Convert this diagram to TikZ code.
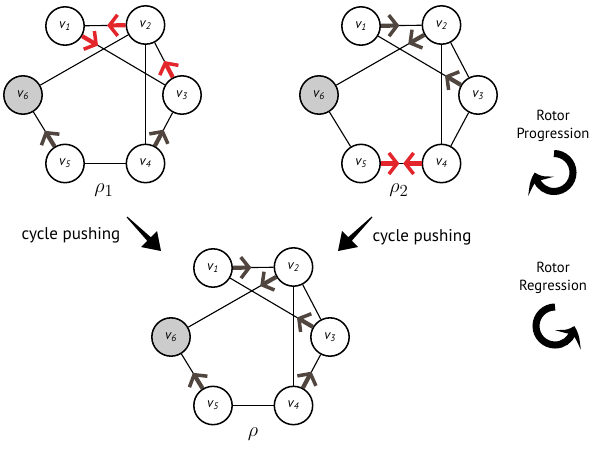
\documentclass[tikz,border=0pt]{standalone}
\usepackage{fontspec}
\setsansfont{PT Sans}
\usetikzlibrary{arrows.meta,calc,bending}
\definecolor{rred}{HTML}{E3262B}
\definecolor{rbrown}{HTML}{51463F}
\definecolor{sinkgray}{HTML}{CCCCCC}
\newcommand\lab[1]{v\textsubscript{#1}}
\newcommand\rotorarr[3]{\draw[#1] ($(#2)!0.6cm!(#3)$) -- ($(#2)!1.15cm!(#3)$);}
\newcommand\rotorgraph[2]{%
  \begin{scope}[shift={#2}]
    \node[vert] (#1v1) at (65,26) {\lab{1}};
    \node[vert] (#1v2) at (145.5,25) {\lab{2}};
    \node[vert] (#1v3) at (182,95) {\lab{3}};
    \node[vert] (#1v4) at (145.5,163.5) {\lab{4}};
    \node[vert] (#1v5) at (65,163.5) {\lab{5}};
    \node[sink] (#1v6) at (23,95) {\lab{6}};
  \end{scope}
  \draw[edge] (#1v1) -- (#1v2);
  \draw[edge] (#1v1) -- (#1v3);
  \draw[edge] (#1v2) -- (#1v6);
  \draw[edge] (#1v2) -- (#1v4);
  \draw[edge] (#1v2) -- (#1v3);
  \draw[edge] (#1v3) -- (#1v4);
  \draw[edge] (#1v4) -- (#1v5);
  \draw[edge] (#1v5) -- (#1v6);
}
\begin{document}
\begin{tikzpicture}[x=0.03cm,y=-0.03cm,
  vert/.style={circle,draw,line width=1.3pt,fill=white,minimum size=1.15cm,inner sep=0pt,
    font=\sffamily\itshape\fontsize{11.5}{13}\selectfont},
  sink/.style={vert,fill=sinkgray},
  edge/.style={line width=0.95pt},
  rotortip/.style={-{Straight Barb[length=7pt,width=18pt,line width=3pt]}},
  rotorred/.style={rred,line width=3.6pt,rotortip},
  rotorbrown/.style={rbrown,line width=3.6pt,rotortip},
  rholab/.style={font=\fontsize{19}{20}\selectfont},
  caption/.style={font=\sffamily\fontsize{14.5}{16}\selectfont},
  rotcap/.style={font=\sffamily\fontsize{12.5}{15.5}\selectfont,align=center},
  turn/.style={line width=6pt,-{Stealth[length=13pt,width=26pt,inset=6pt,bend]}}
]
\useasboundingbox (0,0) rectangle (595,453);

% graph rho_1
\rotorgraph{a}{(0,0)}
\rotorarr{rotorred}{av1}{av3}
\rotorarr{rotorred}{av2}{av1}
\rotorarr{rotorred}{av3}{av2}
\rotorarr{rotorbrown}{av4}{av3}
\rotorarr{rotorbrown}{av5}{av6}
\node[rholab] (rho1) at (104,190) {$\rho_1$};

% graph rho_2
\rotorgraph{b}{(296,0)}
\rotorarr{rotorbrown}{bv1}{bv2}
\rotorarr{rotorbrown}{bv2}{bv6}
\rotorarr{rotorbrown}{bv3}{bv1}
\rotorarr{rotorred}{bv4}{bv5}
\rotorarr{rotorred}{bv5}{bv4}
\node[rholab] (rho2) at (399,190) {$\rho_2$};

% graph rho
\rotorgraph{c}{(148,242)}
\rotorarr{rotorbrown}{cv1}{cv2}
\rotorarr{rotorbrown}{cv2}{cv6}
\rotorarr{rotorbrown}{cv3}{cv1}
\rotorarr{rotorbrown}{cv4}{cv3}
\rotorarr{rotorbrown}{cv5}{cv6}
\node[rholab] (rho) at (253,434) {$\rho$};

% cycle pushing arrows
\fill (127.4,216.6) -- (150.8,237.2) -- (157,231) -- (161,251) -- (141,247) -- (147.2,240.8) -- (126.6,217.4) -- cycle;
\fill (371.6,216.6) -- (348.2,237.2) -- (342,231) -- (338,251) -- (358,247) -- (351.8,240.8) -- (372.4,217.4) -- cycle;
\node[caption] (cp1) at (71,235) {cycle pushing};
\node[caption] (cp2) at (422,237) {cycle pushing};

% rotor progression / regression
\node[rotcap] (rp) at (553,126) {Rotor\\Progression};
\draw[turn] (554,153.5) arc[start angle=90,end angle=-180,radius=0.57cm];
\node[rotcap] (rr) at (553,278) {Rotor\\Regression};
\draw[turn] (555,307) arc[start angle=90,end angle=360,radius=0.57cm];
\end{tikzpicture}
\end{document}
